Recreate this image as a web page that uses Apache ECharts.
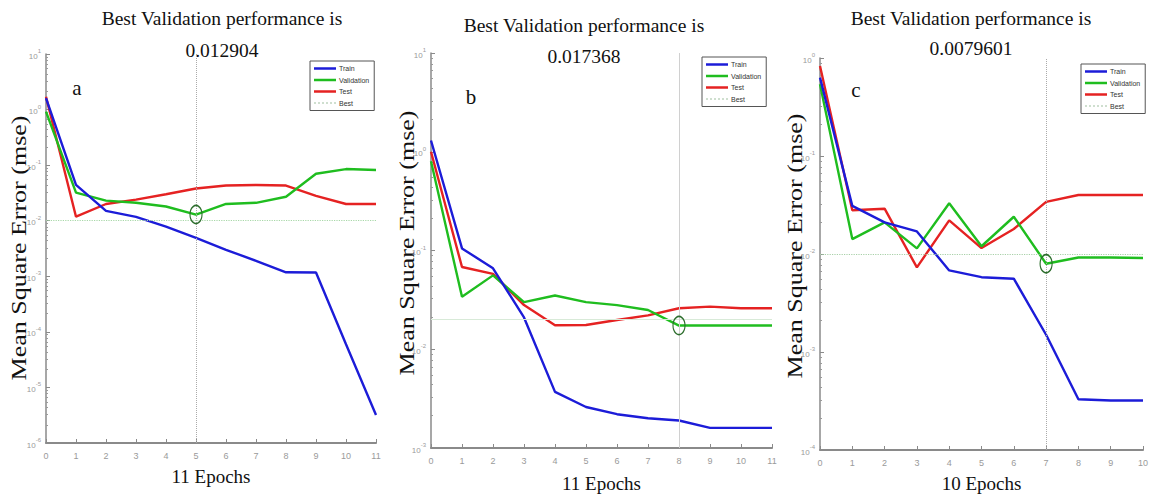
<!DOCTYPE html>
<html>
<head>
<meta charset="utf-8">
<script src="https://cdn.jsdelivr.net/npm/echarts@6/dist/echarts.min.js"></script>
<style>html,body{margin:0;padding:0;background:#fff;}#c{width:1151px;height:500px;}</style>
</head>
<body>
<div id="c"></div>
<script>
// ---------- data ----------
const epochsA = [0,1,2,3,4,5,6,7,8,9,10,11];
const trainA = [1.6, 0.044, 0.015, 0.0117, 0.0078, 0.0049, 0.003, 0.0019, 0.00118, 0.00117, 0.00006, 0.0000032];
const valA   = [0.92, 0.032, 0.023, 0.021, 0.018, 0.012904, 0.020, 0.021, 0.027, 0.07, 0.085, 0.082];
const testA  = [1.7, 0.0118, 0.020, 0.024, 0.030, 0.038, 0.043, 0.044, 0.043, 0.028, 0.020, 0.020];

const epochsB = [0,1,2,3,4,5,6,7,8,9,10,11];
const trainB = [1.3, 0.105, 0.066, 0.021, 0.0037, 0.0026, 0.0022, 0.0020, 0.0019, 0.0016, 0.0016, 0.0016];
const valB   = [0.8, 0.034, 0.056, 0.030, 0.035, 0.030, 0.028, 0.025, 0.017368, 0.0174, 0.0174, 0.0174];
const testB  = [1.0, 0.068, 0.058, 0.028, 0.0175, 0.0176, 0.0198, 0.022, 0.026, 0.027, 0.026, 0.026];

const epochsC = [0,1,2,3,4,5,6,7,8,9,10];
const trainC = [0.63, 0.031, 0.021, 0.017, 0.0068, 0.0058, 0.0056, 0.0015, 0.00033, 0.00032, 0.00032];
const valC   = [0.54, 0.0142, 0.021, 0.0114, 0.033, 0.012, 0.024, 0.0079601, 0.0092, 0.0092, 0.0091];
const testC  = [0.83, 0.028, 0.029, 0.0073, 0.022, 0.0115, 0.018, 0.034, 0.040, 0.040, 0.040];

const bestVal   = [0.012904, 0.017368, 0.0079601];
const bestEpoch = [5, 8, 7];
const epochLabels = ['11 Epochs', '11 Epochs', '10 Epochs'];
const panelLetters = ['a', 'b', 'c'];
const titleLines = ['Best Validation performance is', 'Best Validation performance is', 'Best Validation performance is'];
const bestLabels = ['0.012904', '0.017368', '0.0079601'];
const seriesNames = ['Train', 'Validation', 'Test', 'Best'];
const yMin = [1e-6, 1e-3, 1e-4];
const yMax = [10, 10, 1];
const xMax = [11, 11, 10];

// ---------- styling ----------
const FONT = "'Liberation Serif', 'Times New Roman', serif";
const COL = { Train: '#1c1cd8', Validation: '#1fbd1f', Test: '#e52222', Best: '#9fbf9f' };
const grids = [
  { left: 46, top: 54, width: 330, height: 389 },
  { left: 431, top: 53, width: 341, height: 395 },
  { left: 820, top: 58, width: 328, height: 392 }
];
const legendPos = [ { left: 310, top: 61 }, { left: 702, top: 57 }, { left: 1081, top: 64 } ];
const titlePos = [ { x: 222, y1: 18, y2: 50 }, { x: 584, y1: 25, y2: 56 }, { x: 971, y1: 18, y2: 48 } ];
const letterPos = [ [77, 88], [471, 97], [856, 90] ];
const ynamePos = [ [19, 248], [407, 243], [795, 246] ];
const xNameGap = [24, 26, 24];
const vLineStyle = [
  { color: '#aaaaaa', type: 'dotted', width: 1 },
  { color: '#d0d0d0', type: 'solid', width: 1 },
  { color: '#aaaaaa', type: 'dotted', width: 1 }
];
const hLineStyle = [
  { color: '#a8d8a8', type: 'dotted', width: 1.2 },
  { color: '#d8ead8', type: 'solid', width: 1 },
  { color: '#a8d0a8', type: 'dotted', width: 1.2 }
];

const epochs = [epochsA, epochsB, epochsC];
const trains = [trainA, trainB, trainC];
const vals = [valA, valB, valC];
const tests = [testA, testB, testC];

function pairs(xs, ys) { return xs.map((x, i) => [x, ys[i]]); }
function logLabel(v) {
  const e = Math.round(Math.log10(v));
  return '{b|10}{s|' + e + '}';
}

const dottedIcon = 'path://M0,0h2v1h-2zM4,0h2v1h-2zM8,0h2v1h-2zM12,0h2v1h-2zM16,0h2v1h-2zM20,0h2v1h-2z';

const option = {
  animation: false,
  backgroundColor: '#ffffff',
  grid: grids.map(g => Object.assign({ containLabel: false }, g)),
  xAxis: [], yAxis: [], series: [], legend: [], graphic: []
};

for (let p = 0; p < 3; p++) {
  option.xAxis.push({
    type: 'value', gridIndex: p, min: 0, max: xMax[p], interval: 1,
    name: epochLabels[p], nameLocation: 'middle', nameGap: xNameGap[p],
    nameTextStyle: { fontFamily: FONT, fontSize: 19, color: '#111' },
    axisLine: { show: true, lineStyle: { color: '#8a8a8a', width: 2 } },
    axisTick: { show: true, inside: true, length: 4, lineStyle: { color: '#8a8a8a' } },
    axisLabel: { color: '#9a9a9a', fontSize: 9, margin: 8, fontFamily: 'Arial, sans-serif' },
    splitLine: { show: false }
  });
  option.yAxis.push({
    type: 'log', logBase: 10, gridIndex: p, min: yMin[p], max: yMax[p], interval: 1, splitNumber: 10,
    axisLine: { show: true, lineStyle: { color: '#8a8a8a', width: 1.5 } },
    axisTick: { show: true, inside: true, length: 4, lineStyle: { color: '#8a8a8a' } },
    minorTick: { show: true, splitNumber: 8, length: 2, lineStyle: { color: '#9a9a9a' } },
    axisLabel: {
      margin: 5, formatter: logLabel,
      rich: {
        b: { fontSize: 8, color: '#9a9a9a', fontFamily: 'Arial, sans-serif', lineHeight: 12, verticalAlign: 'bottom' },
        s: { fontSize: 6, color: '#9a9a9a', fontFamily: 'Arial, sans-serif', lineHeight: 12, verticalAlign: 'top' }
      }
    },
    splitLine: { show: false }
  });

  const lineSeries = (name, data) => ({
    name, type: 'line', xAxisIndex: p, yAxisIndex: p, data,
    symbol: 'none', smooth: false, color: COL[name],
    lineStyle: { color: COL[name], width: 2.4 }, silent: true, z: 3
  });
  const sTrain = lineSeries('Train', pairs(epochs[p], trains[p]));
  const sVal = lineSeries('Validation', pairs(epochs[p], vals[p]));
  const sTest = lineSeries('Test', pairs(epochs[p], tests[p]));
  sVal.markPoint = {
    symbol: 'circle', symbolSize: [12, 18], silent: true,
    itemStyle: { color: 'rgba(0,0,0,0)', borderColor: '#2d6e2d', borderWidth: 1.4 },
    label: { show: false },
    data: [{ coord: [bestEpoch[p], bestVal[p]] }]
  };
  const sBest = {
    name: 'Best', type: 'line', xAxisIndex: p, yAxisIndex: p,
    data: [[bestEpoch[p], bestVal[p]]], symbol: 'none', color: COL.Best,
    lineStyle: { color: COL.Best, width: 1, type: 'dotted' }, silent: true, z: 1,
    markLine: {
      symbol: 'none', silent: true, label: { show: false },
      data: [
        { yAxis: bestVal[p], lineStyle: hLineStyle[p] },
        { xAxis: bestEpoch[p], lineStyle: vLineStyle[p] }
      ]
    }
  };
  option.series.push(sBest, sTest, sVal, sTrain);

  option.legend.push({
    left: legendPos[p].left, top: legendPos[p].top, orient: 'vertical',
    itemWidth: 22, itemHeight: 2.5, itemGap: 4.5,
    padding: [4, 5, 4, 4], borderColor: '#555', borderWidth: 1,
    backgroundColor: '#fff', selectedMode: false,
    textStyle: { fontSize: 7, color: '#333', fontFamily: 'Arial, sans-serif', padding: [0, 0, 0, -2] },
    data: [
      { name: 'Train', icon: 'rect' },
      { name: 'Validation', icon: 'rect' },
      { name: 'Test', icon: 'rect' },
      { name: 'Best', icon: dottedIcon }
    ]
  });

  option.graphic.push(
    { type: 'text', x: titlePos[p].x, y: titlePos[p].y1, silent: true,
      style: { text: titleLines[p], font: '19.5px ' + FONT, fill: '#111', textAlign: 'center', textVerticalAlign: 'middle' } },
    { type: 'text', x: titlePos[p].x, y: titlePos[p].y2, silent: true,
      style: { text: bestLabels[p], font: '19.5px ' + FONT, fill: '#111', textAlign: 'center', textVerticalAlign: 'middle' } },
    { type: 'text', x: letterPos[p][0], y: letterPos[p][1], silent: true,
      style: { text: panelLetters[p], font: '21px ' + FONT, fill: '#111', textAlign: 'center', textVerticalAlign: 'middle' } },
    { type: 'text', x: ynamePos[p][0], y: ynamePos[p][1], rotation: Math.PI / 2, scaleX: 1.3, silent: true,
      style: { text: 'Mean Square Error (mse)', font: '20px ' + FONT, fill: '#111', textAlign: 'center', textVerticalAlign: 'middle' } }
  );
}

const chart = echarts.init(document.getElementById('c'), null, { renderer: 'svg', width: 1151, height: 500 });
chart.setOption(option);
</script>
</body>
</html>
